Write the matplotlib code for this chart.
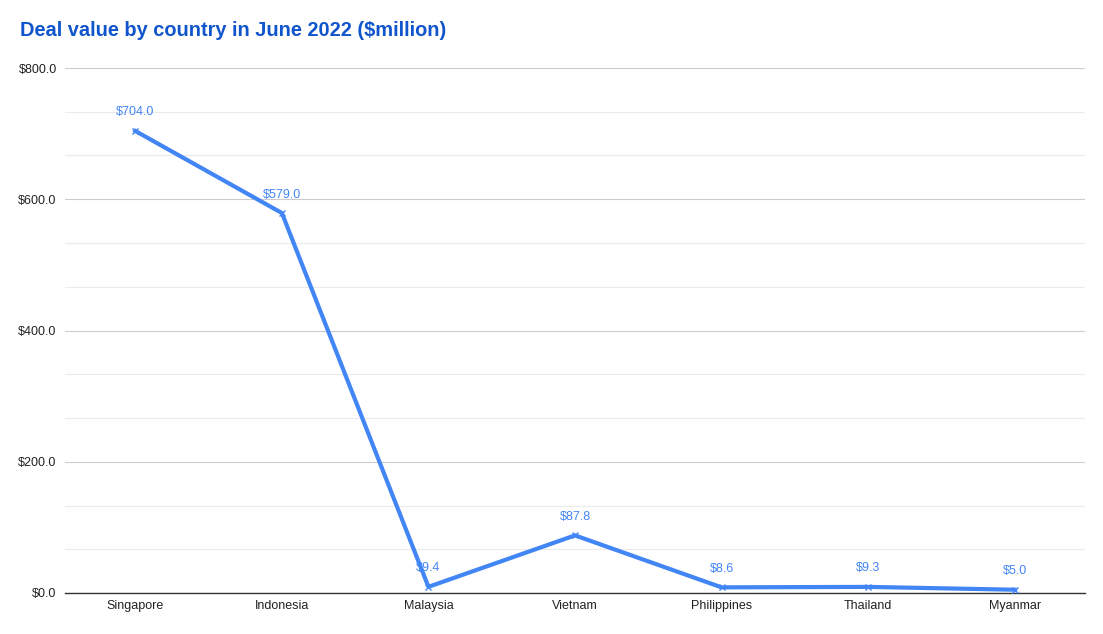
import numpy as np
import matplotlib.pyplot as plt
from matplotlib.ticker import MultipleLocator, FuncFormatter

countries = ["Singapore", "Indonesia", "Malaysia", "Vietnam", "Philippines", "Thailand", "Myanmar"]
deal_value = [704.0, 579.0, 9.4, 87.8, 8.6, 9.3, 5.0]

plt.rcParams['font.family'] = ['Liberation Sans', 'DejaVu Sans']

fig = plt.figure(figsize=(11.03, 6.34), dpi=100)
ax = fig.add_axes([65 / 1103, 41 / 634, 1020 / 1103, 525 / 634])

x = np.arange(len(countries))
ax.plot(x, deal_value, color='#4285f4', linewidth=3, marker='x', markersize=5,
        markeredgewidth=1, zorder=3)

# value labels above each point
for xi, v in zip(x, deal_value):
    ax.annotate(f"${v:.1f}", (xi, v), xytext=(0, 9), textcoords='offset points',
                ha='center', va='bottom', color='#4285f4', fontsize=9)

ax.set_xlim(-0.48, len(countries) - 0.52)
ax.set_ylim(0, 800)
ax.set_xticks(x)
ax.set_xticklabels(countries)
ax.yaxis.set_major_locator(MultipleLocator(200))
ax.yaxis.set_minor_locator(MultipleLocator(200 / 3))
ax.yaxis.set_major_formatter(FuncFormatter(lambda v, p: f"${v:.1f}"))

ax.grid(True, which='major', axis='y', color='#cccccc', linewidth=0.8)
ax.grid(True, which='minor', axis='y', color='#ebebeb', linewidth=0.8)
ax.set_axisbelow(True)

for s in ['top', 'right', 'left']:
    ax.spines[s].set_visible(False)
ax.spines['bottom'].set_color('#333333')
ax.spines['bottom'].set_linewidth(1)
ax.tick_params(axis='both', which='both', length=0, labelsize=9, colors='#222222')
ax.tick_params(axis='y', pad=6)
ax.tick_params(axis='x', pad=5)

fig.text(20 / 1103, 1 - 31 / 634, "Deal value by country in June 2022 ($million)",
         color='#1155cc', fontsize=14.4, fontweight='bold', va='center', ha='left')

plt.savefig("out.png", dpi=100, facecolor='white')
